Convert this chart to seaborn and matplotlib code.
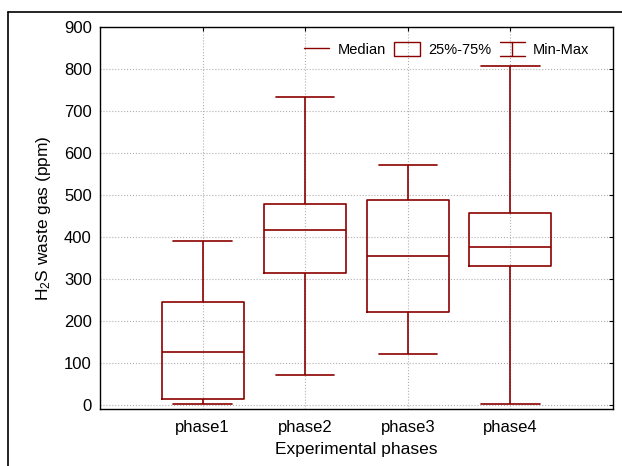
import numpy as np
import pandas as pd
import seaborn as sns
import matplotlib
matplotlib.use('Agg')
import matplotlib.pyplot as plt
from matplotlib.lines import Line2D
from matplotlib.patches import Rectangle
from matplotlib.legend_handler import HandlerBase

# 数据：每个阶段的 最小值, 25%, 中位数, 75%, 最大值
phases = ['phase1', 'phase2', 'phase3', 'phase4']
mins = [3, 72, 120, 1]
q1s = [13, 315, 220, 331]
medians = [126, 417, 355, 376]
q3s = [244, 479, 489, 456]
maxs = [391, 733, 572, 808]

# 5 个点正好给出这些分位数 (whis=(0,100) -> Min-Max)
rows = []
for i, p in enumerate(phases):
    for v in (mins[i], q1s[i], medians[i], q3s[i], maxs[i]):
        rows.append({'phase': p, 'value': v})
df = pd.DataFrame(rows)

red = '#8B0000'

sns.set_style('white')
plt.rcParams['font.family'] = ['Liberation Sans', 'DejaVu Sans']
plt.rcParams['mathtext.default'] = 'regular'
plt.rcParams['text.color'] = 'black'
plt.rcParams['axes.labelcolor'] = 'black'

fig = plt.figure(figsize=(6.22, 4.66), dpi=100)
ax = fig.add_axes([100 / 622, 1 - 409 / 466, 513 / 622, 382 / 466])

sns.boxplot(data=df, x='phase', y='value', order=phases, whis=(0, 100),
            width=0.8, fill=False, color=red, linewidth=1.2,
            capwidths=0.57, showfliers=False, ax=ax)

ax.set_xlim(-1, 4)
ax.set_ylim(-10, 900)
ax.set_yticks(np.arange(0, 901, 100))
ax.grid(True, linestyle=':', color='#b0b0b0', linewidth=0.8)
ax.set_axisbelow(True)
ax.tick_params(direction='in', length=3, top=True, right=True,
               labelsize=12, colors='black')
ax.tick_params(axis='x', pad=8)
ax.tick_params(axis='y', pad=6)
for s in ax.spines.values():
    s.set_visible(True)
    s.set_color('black')
    s.set_linewidth(1.0)

ax.set_xlabel('Experimental phases', fontsize=12.5, labelpad=5)
ax.set_ylabel('H$_2$S waste gas (ppm)', fontsize=12.5, labelpad=8)


# 图例中的 Min-Max 符号
class MinMaxHandler(HandlerBase):
    def create_artists(self, legend, orig_handle, xdescent, ydescent,
                       width, height, fontsize, trans):
        cx = width / 2 - xdescent
        y0 = -ydescent
        y1 = height - ydescent
        arts = [
            Line2D([cx, cx], [y0, y1]),
            Line2D([0, width], [y0, y0]),
            Line2D([0, width], [y1, y1]),
        ]
        for a in arts:
            a.set_color(red)
            a.set_linewidth(1.0)
            a.set_transform(trans)
        return arts


h_med = Line2D([], [], color=red, linewidth=1.0)
h_box = Rectangle((0, 0), 1, 1, facecolor='none', edgecolor=red, linewidth=1.0)
h_mm = object()
ax.legend([h_med, h_box, h_mm], ['Median', '25%-75%', 'Min-Max'],
          handler_map={h_mm: MinMaxHandler()}, loc='upper right',
          ncol=3, frameon=False, fontsize=10.5, handlelength=1.75,
          handleheight=1.1, handletextpad=0.55, columnspacing=0.6,
          bbox_to_anchor=(0.98, 0.995))

# 外框
fig.add_artist(Line2D([8 / 622, 8 / 622], [0, 1 - 12 / 466], color='black',
                      linewidth=1.2, transform=fig.transFigure))
fig.add_artist(Line2D([8 / 622, 1], [1 - 12 / 466, 1 - 12 / 466],
                      color='black', linewidth=1.2, transform=fig.transFigure))

fig.savefig('out.png', dpi=100)
